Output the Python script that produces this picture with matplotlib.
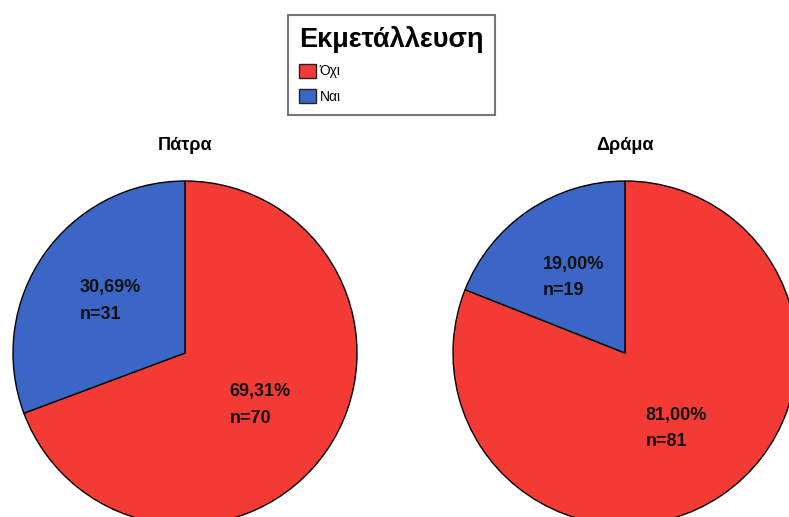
import matplotlib.pyplot as plt
from matplotlib.patches import Patch

plt.rcParams['font.family'] = ['Liberation Sans', 'DejaVu Sans']

cities = ['Πάτρα', 'Δράμα']
categories = ['Όχι', 'Ναι']
counts = [[70, 31], [81, 19]]
colors = ['#F33A35', '#3C66C6']

W, H = 789, 517
fig = plt.figure(figsize=(W / 100, H / 100), dpi=100)

centers = [(185, 353), (625, 353)]
r = 172

for city, vals, (cx, cy) in zip(cities, counts, centers):
    ax = fig.add_axes([(cx - r) / W, (H - cy - r) / H, 2 * r / W, 2 * r / H])
    total = sum(vals)

    def fmt(p, total=total):
        n = int(round(p * total / 100))
        return f'{p:.2f}'.replace('.', ',') + f'%\nn={n}'

    wedges, texts = ax.pie(vals, colors=colors, startangle=90, counterclock=False,
                           radius=1, wedgeprops=dict(edgecolor='black', linewidth=1),
                           labels=[fmt(v * 100 / total) for v in vals],
                           labeldistance=0.53)
    for t in texts:
        t.set_fontsize(13)
        t.set_fontweight('bold')
        t.set_color('#111111')
        t.set_ha('center')
        t.set_va('center')
        t.set_multialignment('left')
        t.set_linespacing(1.75)
    ax.set_xlim(-1, 1)
    ax.set_ylim(-1, 1)
    ax.set_aspect('equal')
    ax.axis('off')
    fig.text(cx / W, 1 - 146 / H, city, ha='center', va='center',
             fontsize=13, fontweight='bold')

handles = [Patch(facecolor=c, edgecolor='#222222', linewidth=1) for c in colors]
leg = fig.legend(handles, categories, loc='upper left',
                 bbox_to_anchor=(288 / W, 1 - 15 / H), borderaxespad=0,
                 title='Εκμετάλλευση', title_fontproperties=dict(size=19.5, weight='bold'),
                 fontsize=10, frameon=True, fancybox=False, edgecolor='#555555',
                 alignment='left', handlelength=1.2, handleheight=1.2,
                 handletextpad=0.3, labelspacing=0.75, borderpad=0.8)
leg.get_frame().set_linewidth(1.5)

fig.savefig('out.png', dpi=100)
